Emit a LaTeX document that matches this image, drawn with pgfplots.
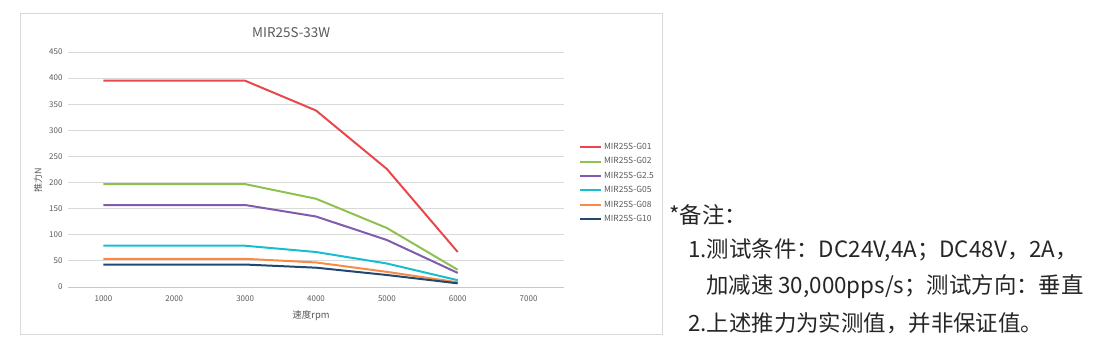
\documentclass[border=0pt]{standalone}
\usepackage{fontspec}
\setmainfont{Noto Sans CJK SC}
\usepackage{pgfplots}
\pgfplotsset{compat=1.18}
\definecolor{cA}{RGB}{232,72,75}
\definecolor{cB}{RGB}{141,193,80}
\definecolor{cC}{RGB}{128,92,172}
\definecolor{cD}{RGB}{23,190,208}
\definecolor{cE}{RGB}{247,139,70}
\definecolor{cF}{RGB}{31,73,112}
\definecolor{tg}{RGB}{89,89,89}
\definecolor{gg}{RGB}{217,217,217}
\begin{document}
\begin{tikzpicture}[x=1bp,y=1bp]
\path[use as bounding box] (0,0) rectangle (1120,352);
\draw[color=gg,line width=0.8bp] (20,18) rectangle (662,339);
\begin{axis}[
  at={(68bp,65bp)}, anchor=south west,
  scale only axis, width=496bp, height=235bp,
  xmin=500, xmax=7500, ymin=0, ymax=450,
  xtick={1000,2000,...,7000}, ytick={0,50,...,450},
  axis x line*=bottom, axis y line*=left,
  x axis line style={color=gg!80!gray, line width=0.8bp, -},
  y axis line style={draw=none},
  ymajorgrids, grid style={color=gg,line width=0.8bp},
  major tick length=0pt,
  ticklabel style={font=\fontsize{8}{9}\selectfont, color=tg},
  /pgf/number format/assume math mode=true,
  /pgf/number format/1000 sep={},
  xticklabel style={yshift=-5bp},
  yticklabel style={xshift=-2bp},
  title={MIR25S-33W}, title style={font=\fontsize{13.5}{15}\selectfont, color=tg, at={(0.45,1)}, anchor=south, yshift=5bp},
  xlabel={速度rpm}, xlabel style={font=\fontsize{9.5}{11}\selectfont, color=tg, at={(axis description cs:0.49,0)}, anchor=center, yshift=-29bp},
  legend style={at={(1.030,0.621)}, anchor=north west, draw=none, fill=none,
    font=\fontsize{8.5}{10}\selectfont, text=tg, inner sep=0pt,
    row sep=2.6bp, cells={anchor=west}},
  legend image code/.code={\draw[#1] (0bp,0bp) -- (21bp,0bp);},
  every axis plot/.append style={line width=2bp, line join=round},
  clip=false,
]
\addplot[cA] coordinates {(1000,395) (3000,395) (4000,338) (5000,226) (6000,67)};
\addplot[cB] coordinates {(1000,197) (3000,197) (4000,169) (5000,113) (6000,33)};
\addplot[cC] coordinates {(1000,157) (3000,157) (4000,135) (5000,90) (6000,27)};
\addplot[cD] coordinates {(1000,79) (3000,79) (4000,67) (5000,45) (6000,13)};
\addplot[cE] coordinates {(1000,54) (3000,54) (4000,47) (5000,29) (6000,9)};
\addplot[cF] coordinates {(1000,43) (3000,43) (4000,37) (5000,23) (6000,7)};
\legend{MIR25S-G01,MIR25S-G02,MIR25S-G2.5,MIR25S-G05,MIR25S-G08,MIR25S-G10}
\end{axis}
\node[rotate=90, font=\fontsize{9}{10}\selectfont, color=tg] at (38,172) {推力N};
\begin{scope}[every node/.style={anchor=west, inner sep=0pt, font=\fontsize{22.5}{26}\selectfont, color=black!85}]
\node at (669,137) {*备注：};
\node at (688,102) {1.测试条件：DC24V,4A；DC48V，2A，};
\node at (706,65) {加减速 30,000pps/s；测试方向：垂直};
\node at (688,29) {2.上述推力为实测值，并非保证值。};
\end{scope}
\end{tikzpicture}
\end{document}
